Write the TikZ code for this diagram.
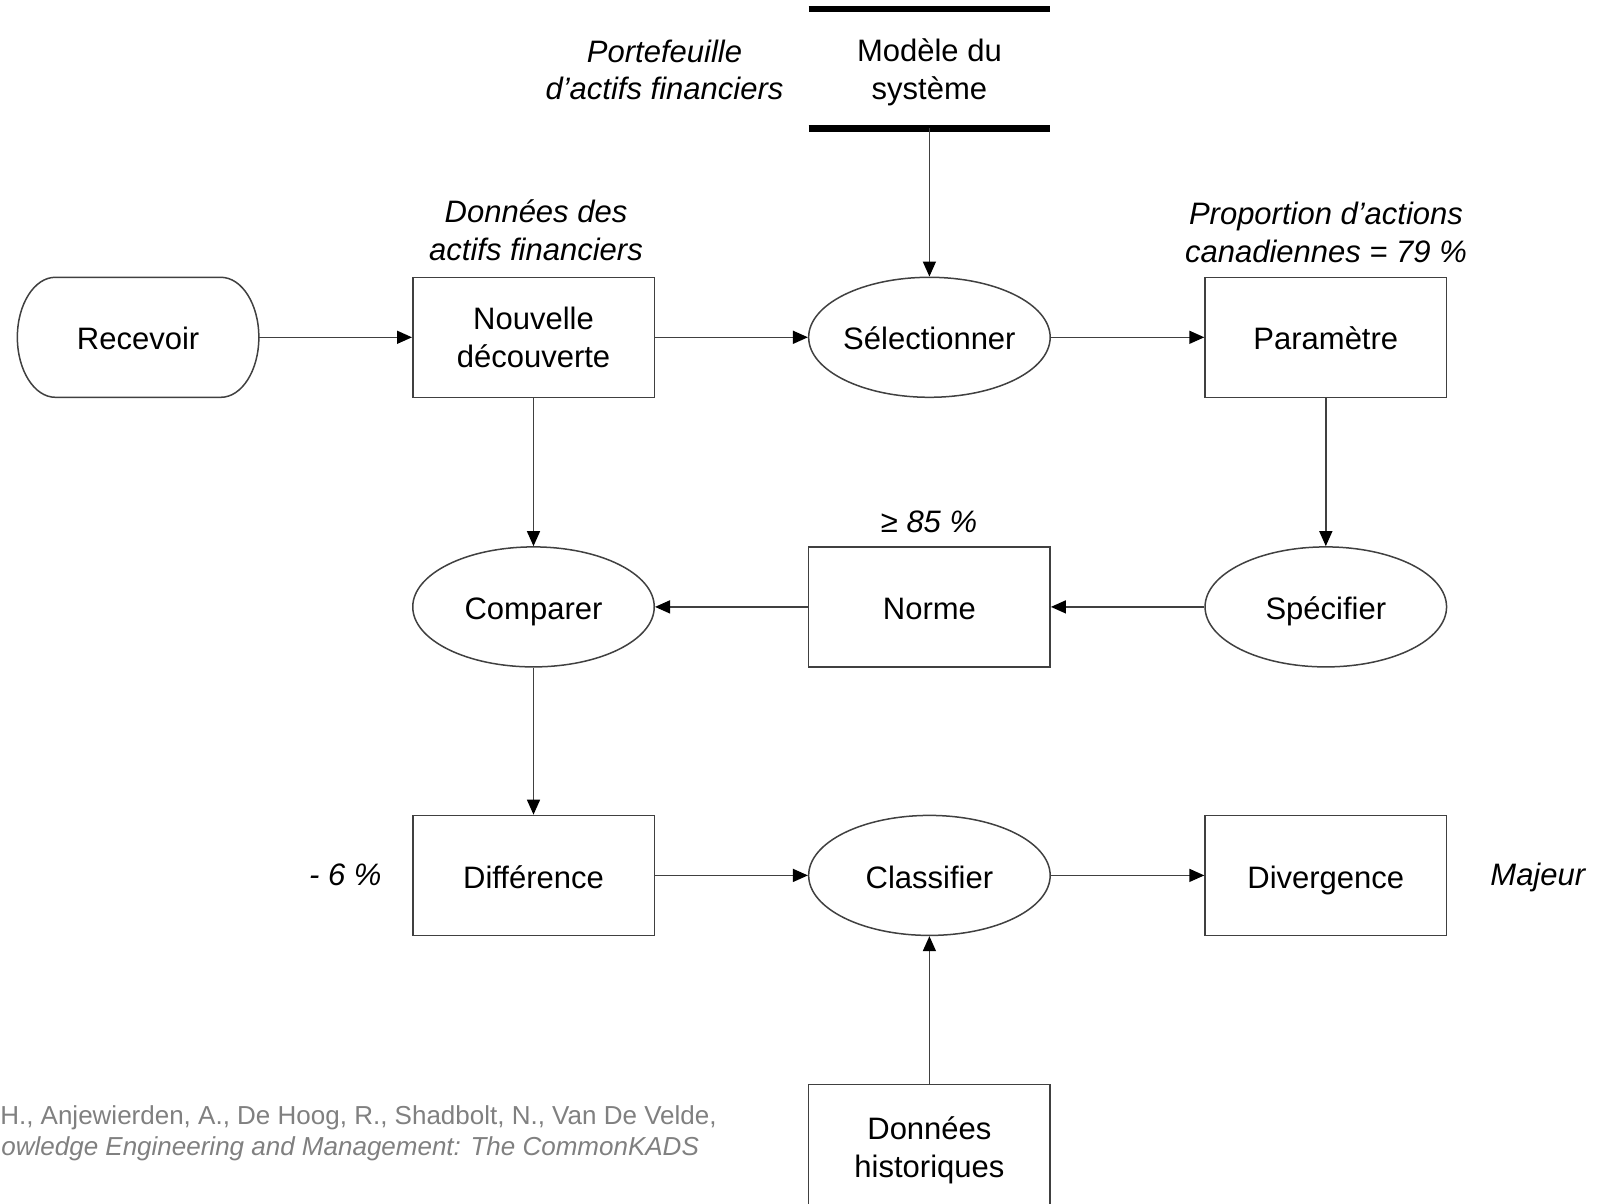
\documentclass[tikz,border=0pt]{standalone}
\usepackage{fontspec}
\setmainfont{Liberation Sans}
\usetikzlibrary{shapes.geometric,arrows.meta,calc}

\definecolor{edgegray}{RGB}{64,64,64}
\definecolor{citegray}{RGB}{128,128,128}

\begin{document}
\begin{tikzpicture}[x=0.5pt,y=-0.5pt,
  txt/.style={font=\fontsize{15.5pt}{18.85pt}\selectfont, align=center},
  oneline/.style={text height=12.6pt, text depth=0pt},
  lbl/.style={font=\fontsize{15.5pt}{18.85pt}\selectfont\itshape, align=center, inner sep=0pt},
  cite/.style={font=\fontsize{13pt}{15pt}\selectfont, text=citegray, inner sep=0pt},
  procbox/.style={txt, draw=edgegray, line width=0.75pt, rectangle,
    minimum width=120.75pt, minimum height=60pt, inner sep=0pt},
  task/.style={txt, oneline, draw=edgegray, line width=0.75pt, ellipse,
    minimum width=120.75pt, minimum height=60pt, inner sep=0pt, inner xsep=-4pt},
  flow/.style={draw=edgegray, line width=0.75pt,
    -{Triangle[length=7.5pt,width=6.5pt,color=black]}},
  storebar/.style={line width=3.2pt, black},
]
\useasboundingbox (0,0) rectangle (1598,1203);

% start terminal: rounded ends drawn as half ellipses
\node[txt, oneline, rectangle, minimum width=120.75pt, minimum height=60pt, inner sep=0pt, outer sep=0pt] (rec) at (138.1,337.3) {Recevoir};
\draw[edgegray, line width=0.75pt]
  ($(rec.north west)+(38,0)$) -- ($(rec.north east)+(-38,0)$)
  arc[start angle=90, end angle=-90, x radius=19pt, y radius=30pt]
  -- ($(rec.south west)+(38,0)$)
  arc[start angle=270, end angle=90, x radius=19pt, y radius=30pt] -- cycle;

% data store
\node[txt, minimum width=120.75pt, minimum height=59.6pt, inner sep=0pt, outer sep=0pt, text depth=-1.5pt] (modele) at (929.4,68.8) {Modèle du\\système};
\draw[storebar] (modele.north west) -- (modele.north east);
\draw[storebar] (modele.south west) -- (modele.south east);

% row 1
\node[procbox, text depth=-2pt] (nouv) at (533.5,337.3) {Nouvelle\\découverte};
\node[task] (sel) at (929.4,337.3) {Sélectionner};
\node[procbox, oneline] (param) at (1325.8,337.3) {Paramètre};
% row 2
\node[task] (comp) at (533.5,606.9) {Comparer};
\node[procbox, oneline] (norme) at (929.4,606.9) {Norme};
\node[task] (spec) at (1325.8,606.9) {Spécifier};
% row 3
\node[procbox, oneline] (diff) at (533.5,875.4) {Différence};
\node[task] (class) at (929.4,875.4) {Classifier};
\node[procbox, oneline] (div) at (1325.8,875.4) {Divergence};
% row 4
\node[procbox, minimum height=66pt] (hist) at (929.4,1150.3) {Données\\historiques};

% annotations
\node[lbl] (portef) at (664.5,70) {Portefeuille\\d’actifs financiers};
\node[lbl] (donnees) at (536,230) {Données des\\actifs financiers};
\node[lbl] (propor) at (1326,232.5) {Proportion d’actions\\canadiennes = 79 \%};
\node[lbl, anchor=base] (seuil) at (929,532) {{\upshape ≥} 85 \%};
\node[lbl, anchor=base west] (ecart) at (308.8,885.5) {- 6 \%};
\node[lbl, anchor=base west] (majeur) at (1490,885.5) {Majeur};

% reference lines
\node[cite, anchor=base east] (ref1) at (717,1124) {H., Anjewierden, A., De Hoog, R., Shadbolt, N., Van De Velde,};
\node[cite, anchor=base west, font=\fontsize{13pt}{15pt}\selectfont\itshape] (ref2) at (1,1155) {owledge Engineering and Management: The CommonKADS};

% flows
\draw[flow] (rec.east) -- (nouv.west);
\draw[flow] (nouv.east) -- (sel.west);
\draw[flow] (modele.south) -- (sel.north);
\draw[flow] (sel.east) -- (param.west);
\draw[flow] (param.south) -- (spec.north);
\draw[flow] (spec.west) -- (norme.east);
\draw[flow] (norme.west) -- (comp.east);
\draw[flow] (nouv.south) -- (comp.north);
\draw[flow] (comp.south) -- (diff.north);
\draw[flow] (diff.east) -- (class.west);
\draw[flow] (class.east) -- (div.west);
\draw[flow] (hist.north) -- (class.south);
\end{tikzpicture}
\end{document}
